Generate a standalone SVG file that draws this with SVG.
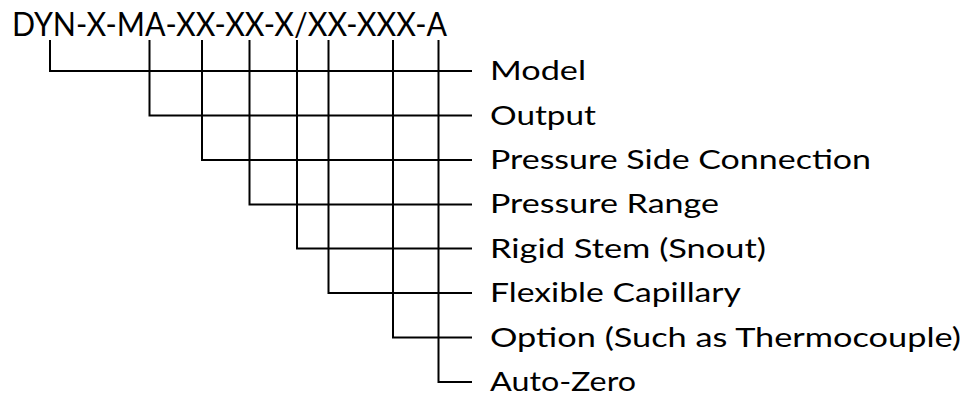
<svg xmlns="http://www.w3.org/2000/svg" width="969" height="396" viewBox="0 0 969 396">
<style>
.c{fill:none;stroke:#000;stroke-width:2}
.t{font-family:Lato,"Open Sans",sans-serif;font-size:27.5px;fill:#000}
.h{font-family:Lato,"Open Sans",sans-serif;font-size:32.5px;fill:#000}
</style>
<rect width="969" height="396" fill="#fff"/>
<g id="code"><text class="h" x="12" y="36" textLength="435" lengthAdjust="spacingAndGlyphs">DYN-X-MA-XX-XX-X/XX-XXX-A</text></g>
<g id="connectors">
<path class="c" d="M50 40V71H472"/>
<path class="c" d="M149.5 40V115.5H472"/>
<path class="c" d="M202 40V160H472"/>
<path class="c" d="M249.5 40V204.5H472"/>
<path class="c" d="M297 40V248.5H472"/>
<path class="c" d="M328.5 40V293H472"/>
<path class="c" d="M393 40V337.5H472"/>
<path class="c" d="M438.5 40V382H472"/>
</g>
<g id="n1"><text class="t" x="490" y="80.2" textLength="96" lengthAdjust="spacingAndGlyphs">Model</text></g>
<g id="n2"><text class="t" x="490" y="124.6" textLength="106" lengthAdjust="spacingAndGlyphs">Output</text></g>
<g id="n3"><text class="t" x="490" y="169" textLength="381" lengthAdjust="spacingAndGlyphs">Pressure Side Connection</text></g>
<g id="n4"><text class="t" x="490" y="213.4" textLength="229" lengthAdjust="spacingAndGlyphs">Pressure Range</text></g>
<g id="n5"><text class="t" x="490" y="257.9" textLength="276" lengthAdjust="spacingAndGlyphs">Rigid Stem (Snout)</text></g>
<g id="n6"><text class="t" x="490" y="302.3" textLength="251" lengthAdjust="spacingAndGlyphs">Flexible Capillary</text></g>
<g id="n7"><text class="t" x="490" y="346.7" textLength="471" lengthAdjust="spacingAndGlyphs">Option (Such as Thermocouple)</text></g>
<g id="n8"><text class="t" x="490" y="391" textLength="146" lengthAdjust="spacingAndGlyphs">Auto-Zero</text></g>
</svg>
